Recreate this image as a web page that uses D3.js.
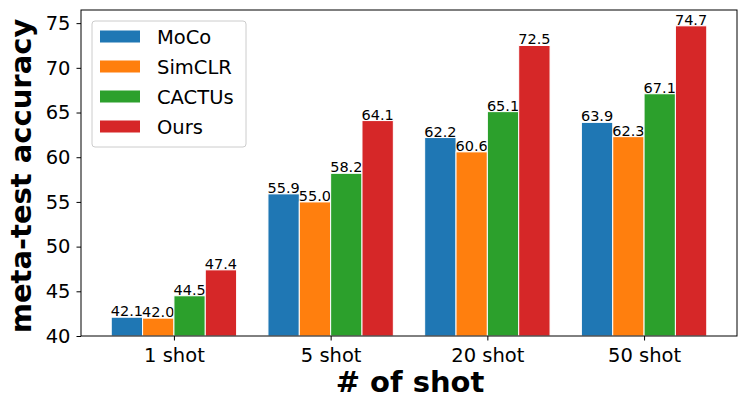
<!DOCTYPE html>
<html>
<head>
<meta charset="utf-8">
<script src="https://cdn.jsdelivr.net/npm/d3@7"></script>
<style>
  body { margin: 0; background: #fff; }
  svg text { font-family: "DejaVu Sans", sans-serif; }
</style>
</head>
<body>
<div id="chart"></div>
<script>
// data
var shots = ["1 shot", "5 shot", "20 shot", "50 shot"];
var methods = ["MoCo", "SimCLR", "CACTUs", "Ours"];
var moco = [42.1, 55.9, 62.2, 63.9];
var simclr = [42.0, 55.0, 60.6, 62.3];
var cactus = [44.5, 58.2, 65.1, 67.1];
var ours = [47.4, 64.1, 72.5, 74.7];
var yTicks = [40, 45, 50, 55, 60, 65, 70, 75];
var colors = ["#1f77b4", "#ff7f0e", "#2ca02c", "#d62728"];

var series = [moco, simclr, cactus, ours];

var W = 747, H = 411;
var margin = { top: 10, right: 10, bottom: 75, left: 81 };
var width = W - margin.left - margin.right,
  height = H - margin.top - margin.bottom;

var svg = d3.select("#chart")
  .append("svg")
  .attr("width", W)
  .attr("height", H);

var g = svg.append("g")
  .attr("transform", "translate(" + margin.left + "," + margin.top + ")");

// x is linear over category index, like matplotlib
var x = d3.scaleLinear()
  .domain([-0.593, 3.593])
  .range([0, width]);

var y = d3.scaleLinear()
  .domain([40, 76.47])
  .range([height, 0]);

var barW = 0.2;

// bars
series.forEach(function (vals, si) {
  var off = (si - 1.5) * barW;
  g.selectAll(".bar" + si)
    .data(vals)
    .enter()
    .append("rect")
    .attr("x", function (d, i) { return x(i + off - barW / 2); })
    .attr("y", function (d) { return y(d); })
    .attr("width", x(barW) - x(0))
    .attr("height", function (d) { return y(40) - y(d); })
    .attr("fill", colors[si])
    .attr("stroke", "#fff")
    .attr("stroke-width", 1);

  g.selectAll(".lab" + si)
    .data(vals)
    .enter()
    .append("text")
    .attr("x", function (d, i) { return x(i + off); })
    .attr("y", function (d) { return y(d) - 1; })
    .attr("text-anchor", "middle")
    .style("font-size", "14.5px")
    .text(function (d) { return d.toFixed(1); });
});

// axes
var xAxis = g.append("g")
  .attr("transform", "translate(0," + height + ")")
  .call(d3.axisBottom(x).tickValues([0, 1, 2, 3]).tickSize(4.5)
    .tickFormat(function (d) { return shots[d]; }));
var yAxis = g.append("g")
  .call(d3.axisLeft(y).tickValues(yTicks).tickSize(4.5).tickPadding(6));

[xAxis, yAxis].forEach(function (a) {
  a.select(".domain").remove();
  a.selectAll("line").attr("stroke", "#000").attr("stroke-width", 1);
  a.selectAll("text").style("font-size", "19.5px").attr("fill", "#000");
});
xAxis.selectAll("text").attr("y", 26).attr("dy", 0);

// frame
g.append("rect")
  .attr("x", 0).attr("y", 0)
  .attr("width", width).attr("height", height)
  .attr("fill", "none")
  .attr("stroke", "#000")
  .attr("stroke-width", 1);

// axis titles
svg.append("text")
  .attr("x", margin.left + width / 2 + 1)
  .attr("y", 392)
  .attr("text-anchor", "middle")
  .style("font-size", "29px")
  .style("font-weight", "bold")
  .text("# of shot");

svg.append("text")
  .attr("transform", "translate(31," + (margin.top + height / 2 + 3) + ") rotate(-90)")
  .attr("text-anchor", "middle")
  .style("font-size", "29px")
  .style("font-weight", "bold")
  .text("meta-test accuracy");

// legend
var leg = svg.append("g").attr("transform", "translate(92,21)");
leg.append("rect")
  .attr("width", 154).attr("height", 126)
  .attr("rx", 3)
  .attr("fill", "#fff")
  .attr("fill-opacity", 0.8)
  .attr("stroke", "#ccc");
methods.forEach(function (m, i) {
  var row = leg.append("g").attr("transform", "translate(0," + (15 + i * 30) + ")");
  row.append("rect")
    .attr("x", 8).attr("y", -5.5)
    .attr("width", 40).attr("height", 12)
    .attr("fill", colors[i]);
  row.append("text")
    .attr("x", 65).attr("y", 7.5)
    .style("font-size", "19.5px")
    .text(m);
});
</script>
</body>
</html>
